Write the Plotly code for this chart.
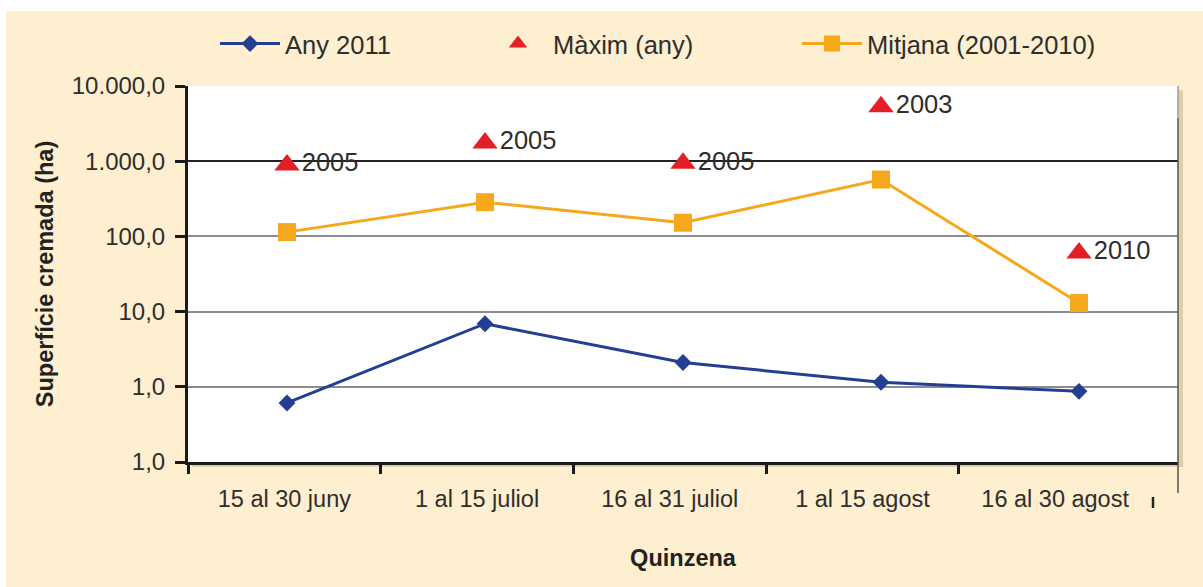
import plotly.graph_objects as go

categories = ["15 al 30 juny", "1 al 15 juliol", "16 al 31 juliol", "1 al 15 agost", "16 al 30 agost"]
any_2011 = [0.61, 6.9, 2.1, 1.15, 0.87]
maxim_any = [890, 1740, 940, 5300, 60]
maxim_year_labels = ["2005", "2005", "2005", "2003", "2010"]
mitjana = [114, 285, 152, 570, 13.0]
ytick_vals = [0.1, 1, 10, 100, 1000, 10000]
ytick_text = ["1,0", "1,0", "10,0", "100,0", "1.000,0", "10.000,0"]

FONT = "Liberation Sans, Arial, sans-serif"
TXT = "#2e2e2e"
BLUE = "#243F91"
ORANGE = "#F6A81C"
RED = "#E41E26"

W, H = 1203, 587
L, R, T, B = 188, 25, 86, 125
PW, PH = W - L - R, H - T - B


def px2x(px):
    return (px - L) / PW


def py2y(py):
    return (H - B - py) / PH


fig = go.Figure()

fig.add_trace(go.Scatter(
    x=categories, y=any_2011, name="Any 2011", mode="lines+markers",
    line=dict(color=BLUE, width=3),
    marker=dict(symbol="diamond", size=13, color=BLUE),
    legend="legend",
))
fig.add_trace(go.Scatter(
    x=categories, y=maxim_any, name="Màxim (any)", mode="markers+text",
    marker=dict(symbol="triangle-up", size=22, color=RED),
    text=maxim_year_labels, textposition="middle right",
    textfont=dict(family=FONT, size=25.5, color=TXT),
    legend="legend2",
))
fig.add_trace(go.Scatter(
    x=categories, y=mitjana, name="Mitjana (2001-2010)", mode="lines+markers",
    line=dict(color=ORANGE, width=3),
    marker=dict(symbol="square", size=18, color=ORANGE),
    legend="legend3",
))
# empty traces so that the overlay axes (category labels, dark 1000 gridline) are drawn
fig.add_trace(go.Scatter(x=[], y=[], xaxis="x2", yaxis="y", showlegend=False, hoverinfo="skip"))
fig.add_trace(go.Scatter(x=[], y=[], xaxis="x", yaxis="y2", showlegend=False, hoverinfo="skip"))

shapes = [
    dict(type="rect", xref="paper", yref="paper", layer="below",
         x0=px2x(6), x1=px2x(W + 5), y0=py2y(H + 5), y1=py2y(11),
         fillcolor="#FDEFCF", line=dict(width=0)),
    dict(type="rect", xref="paper", yref="paper", layer="below",
         x0=px2x(L + 4), x1=px2x(W - R + 5), y0=py2y(H - B + 5), y1=py2y(T + 4),
         fillcolor="rgba(110,90,50,0.22)", line=dict(width=0)),
    dict(type="rect", xref="paper", yref="paper", layer="below",
         x0=0, x1=1, y0=0, y1=1, fillcolor="white", line=dict(width=0)),
    dict(type="line", xref="paper", yref="paper", x0=1, x1=1,
         y0=py2y(493), y1=py2y(118), line=dict(color="#555", width=1.5)),
    dict(type="line", xref="paper", yref="paper", x0=1, x1=1,
         y0=py2y(118), y1=1, line=dict(color="#9a9a9a", width=1.5)),
    dict(type="line", xref="paper", yref="paper", x0=px2x(1153), x1=px2x(1153),
         y0=py2y(497), y1=py2y(508), line=dict(color="#222", width=2.5)),
]

legend_common = dict(orientation="h", yref="container", yanchor="middle", y=1 - 44 / H,
                     xref="container", xanchor="left",
                     bgcolor="rgba(0,0,0,0)", font=dict(family=FONT, size=25.5, color=TXT),
                     itemwidth=60)

fig.update_layout(
    width=W, height=H,
    margin=dict(l=L, r=R, t=T, b=B, autoexpand=False),
    paper_bgcolor="white",
    plot_bgcolor="rgba(0,0,0,0)",
    showlegend=True,
    font=dict(family=FONT, size=23, color=TXT),
    shapes=shapes,
    legend=dict(legend_common, x=215 / W),
    legend2=dict(legend_common, x=483 / W),
    legend3=dict(legend_common, x=797 / W),
    xaxis=dict(
        type="category", range=[-0.5, 4.5], automargin=False,
        showticklabels=False, ticks="",
        showline=True, linecolor="#1a1a1a", linewidth=3,
        showgrid=False, zeroline=False,
    ),
    xaxis2=dict(
        overlaying="x", anchor="y", side="bottom", automargin=False,
        range=[0, PW / 192.7], showgrid=False, zeroline=False, showline=False,
        tickmode="array", tickvals=[0.5, 1.5, 2.5, 3.5, 4.5], ticktext=categories,
        ticks="", ticklabelstandoff=20,
        tickfont=dict(family=FONT, size=23.5, color=TXT),
        minor=dict(tickmode="array", tickvals=[0, 1, 2, 3, 4], ticks="outside",
                   ticklen=11, tickwidth=2.5, tickcolor="#1a1a1a", showgrid=False),
        title=dict(text="<b>Quinzena</b>", font=dict(family=FONT, size=23.5, color="#222"),
                   standoff=39),
    ),
    yaxis=dict(
        type="log", range=[-1, 4], automargin=False,
        tickmode="array", tickvals=ytick_vals, ticktext=ytick_text,
        ticks="outside", ticklen=10, tickwidth=2.5, tickcolor="#1a1a1a",
        ticklabelstandoff=5,
        tickfont=dict(family=FONT, size=24, color=TXT),
        showline=True, linecolor="#1a1a1a", linewidth=3,
        showgrid=True, gridcolor="#8c8c8c", gridwidth=1.5,
        zeroline=False,
        title=dict(text="<b>Superfície cremada (ha)</b>",
                   font=dict(family=FONT, size=23.5, color="#222"), standoff=12),
    ),
    yaxis2=dict(
        type="log", range=[-1, 4], overlaying="y", anchor="x", automargin=False,
        tickmode="array", tickvals=[1000], showticklabels=False, ticks="",
        showgrid=True, gridcolor="#222", gridwidth=1.5, showline=False, zeroline=False,
    ),
)

fig.write_html("out.html", config={"displayModeBar": False},
               post_script="document.body.style.margin='0';")
